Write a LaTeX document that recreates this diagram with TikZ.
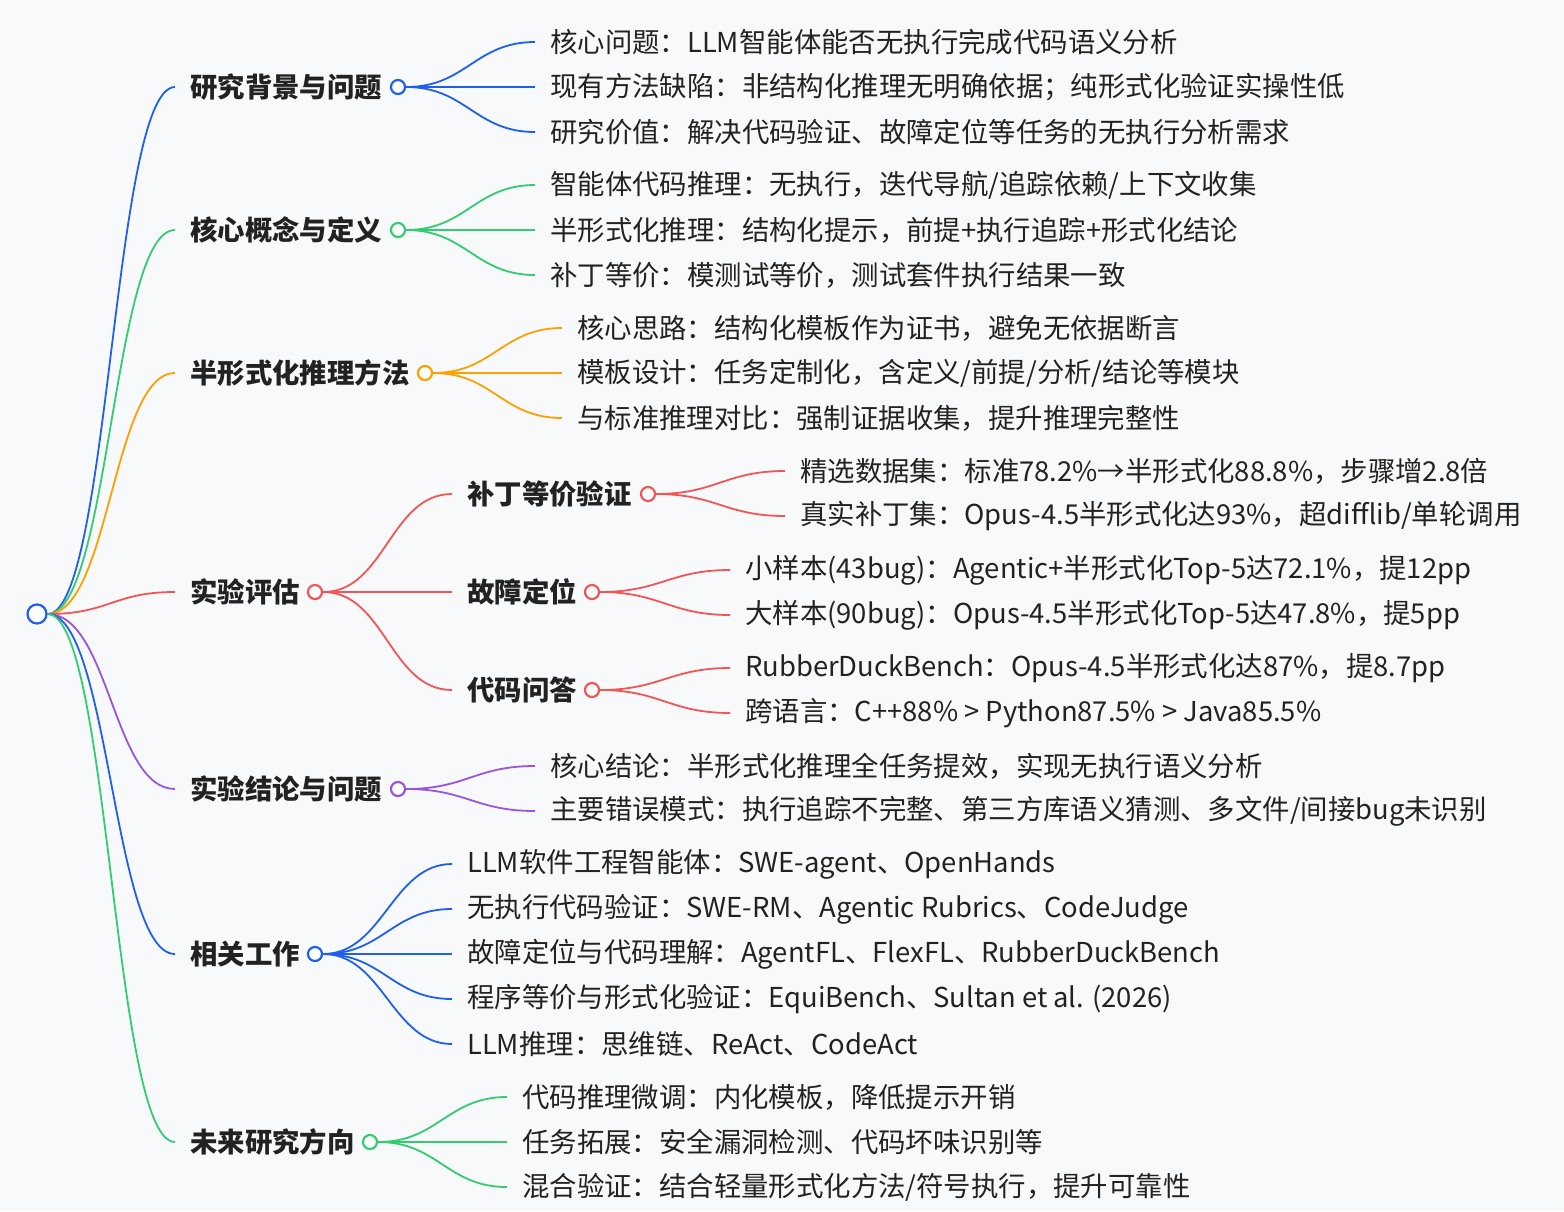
\documentclass[tikz,border=0pt]{standalone}
\usepackage{fontspec}
\setmainfont{Noto Sans CJK SC}
\definecolor{cb}{HTML}{1F5FF0}
\definecolor{cg}{HTML}{33CC70}
\definecolor{co}{HTML}{FFA000}
\definecolor{cr}{HTML}{F25555}
\definecolor{cp}{HTML}{9B55DD}
\definecolor{bg}{HTML}{F7F9FB}
\definecolor{tx}{HTML}{222222}
\tikzset{
  dot/.style={circle,draw=#1,fill=white,line width=2.2pt,minimum size=14pt,inner sep=0pt},
  lbl/.style={anchor=west,inner sep=0pt,text=tx,font=\fontsize{27.4}{30}\selectfont},
  blbl/.style={lbl,font=\fontsize{27.4}{30}\selectfont\bfseries},
  con/.style={draw=#1,line width=1.8pt},
}
% \lf{name}{parent}{xend}{y}{text}{color}
\newcommand{\lf}[6]{%
  \coordinate (#1e) at (#3,#4);
  \node[lbl] (#1) at (#3+15,#4) {#5};
  \draw[con=#6] (#2.east) .. controls +(60,0) and +(-60,0) .. (#1e);
}
% \br{name}{parent}{xtext}{y}{xdot}{text}{color}
\newcommand{\br}[7]{%
  \node[blbl] (#1) at (#3,#4) {#6};
  \node[dot=#7] (#1d) at (#5,#4) {};
  \coordinate (#1e) at (#3-15,#4);
  \draw[con=#7] (#2.east) .. controls +(62,0) and +(-62,0) .. (#1e);
}
\begin{document}
\begin{tikzpicture}[x=1pt,y=-1pt]
\fill[bg] (0,0) rectangle (1564,1211);
\useasboundingbox (0,0) rectangle (1564,1211);
\node[dot=cb,minimum size=19pt] (root) at (37,614) {};
\br{a}{root}{190}{87}{398}{研究背景与问题}{cb}
\br{b}{root}{190}{230}{398}{核心概念与定义}{cg}
\br{c}{root}{190}{373}{425}{半形式化推理方法}{co}
\br{d}{root}{190}{592}{315}{实验评估}{cr}
\br{e}{root}{190}{789}{398}{实验结论与问题}{cp}
\br{f}{root}{190}{954}{315}{相关工作}{cb}
\br{g}{root}{190}{1142}{370}{未来研究方向}{cg}
\br{da}{dd}{467}{494}{648}{补丁等价验证}{cr}
\br{db}{dd}{467}{592}{592}{故障定位}{cr}
\br{dc}{dd}{467}{690}{592}{代码问答}{cr}

\lf{a1}{ad}{535}{42}{核心问题：LLM智能体能否无执行完成代码语义分析}{cb}
\lf{a2}{ad}{535}{87}{现有方法缺陷：非结构化推理无明确依据；纯形式化验证实操性低}{cb}
\lf{a3}{ad}{535}{132}{研究价值：解决代码验证、故障定位等任务的无执行分析需求}{cb}
\lf{b1}{bd}{535}{185}{智能体代码推理：无执行，迭代导航/追踪依赖/上下文收集}{cg}
\lf{b2}{bd}{535}{230}{半形式化推理：结构化提示，前提+执行追踪+形式化结论}{cg}
\lf{b3}{bd}{535}{275}{补丁等价：模测试等价，测试套件执行结果一致}{cg}
\lf{c1}{cd}{562}{328}{核心思路：结构化模板作为证书，避免无依据断言}{co}
\lf{c2}{cd}{562}{373}{模板设计：任务定制化，含定义/前提/分析/结论等模块}{co}
\lf{c3}{cd}{562}{418}{与标准推理对比：强制证据收集，提升推理完整性}{co}
\lf{da1}{dad}{785}{471}{精选数据集：标准78.2\%→半形式化88.8\%，步骤增2.8倍}{cr}
\lf{da2}{dad}{785}{516}{真实补丁集：Opus-4.5半形式化达93\%，超difflib/单轮调用}{cr}
\lf{db1}{dbd}{730}{570}{小样本(43bug)：Agentic+半形式化Top-5达72.1\%，提12pp}{cr}
\lf{db2}{dbd}{730}{615}{大样本(90bug)：Opus-4.5半形式化Top-5达47.8\%，提5pp}{cr}
\lf{dc1}{dcd}{730}{668}{RubberDuckBench：Opus-4.5半形式化达87\%，提8.7pp}{cr}
\lf{dc2}{dcd}{730}{713}{跨语言：C++88\% > Python87.5\% > Java85.5\%}{cr}
\lf{e1}{ed}{535}{766}{核心结论：半形式化推理全任务提效，实现无执行语义分析}{cp}
\lf{e2}{ed}{535}{811}{主要错误模式：执行追踪不完整、第三方库语义猜测、多文件/间接bug未识别}{cp}
\lf{f1}{fd}{452}{864}{LLM软件工程智能体：SWE-agent、OpenHands}{cb}
\lf{f2}{fd}{452}{909}{无执行代码验证：SWE-RM、Agentic Rubrics、CodeJudge}{cb}
\lf{f3}{fd}{452}{954}{故障定位与代码理解：AgentFL、FlexFL、RubberDuckBench}{cb}
\lf{f4}{fd}{452}{999}{程序等价与形式化验证：EquiBench、Sultan et al. (2026)}{cb}
\lf{f5}{fd}{452}{1044}{LLM推理：思维链、ReAct、CodeAct}{cb}
\lf{g1}{gd}{507}{1097}{代码推理微调：内化模板，降低提示开销}{cg}
\lf{g2}{gd}{507}{1142}{任务拓展：安全漏洞检测、代码坏味识别等}{cg}
\lf{g3}{gd}{507}{1187}{混合验证：结合轻量形式化方法/符号执行，提升可靠性}{cg}
\end{tikzpicture}
\end{document}
